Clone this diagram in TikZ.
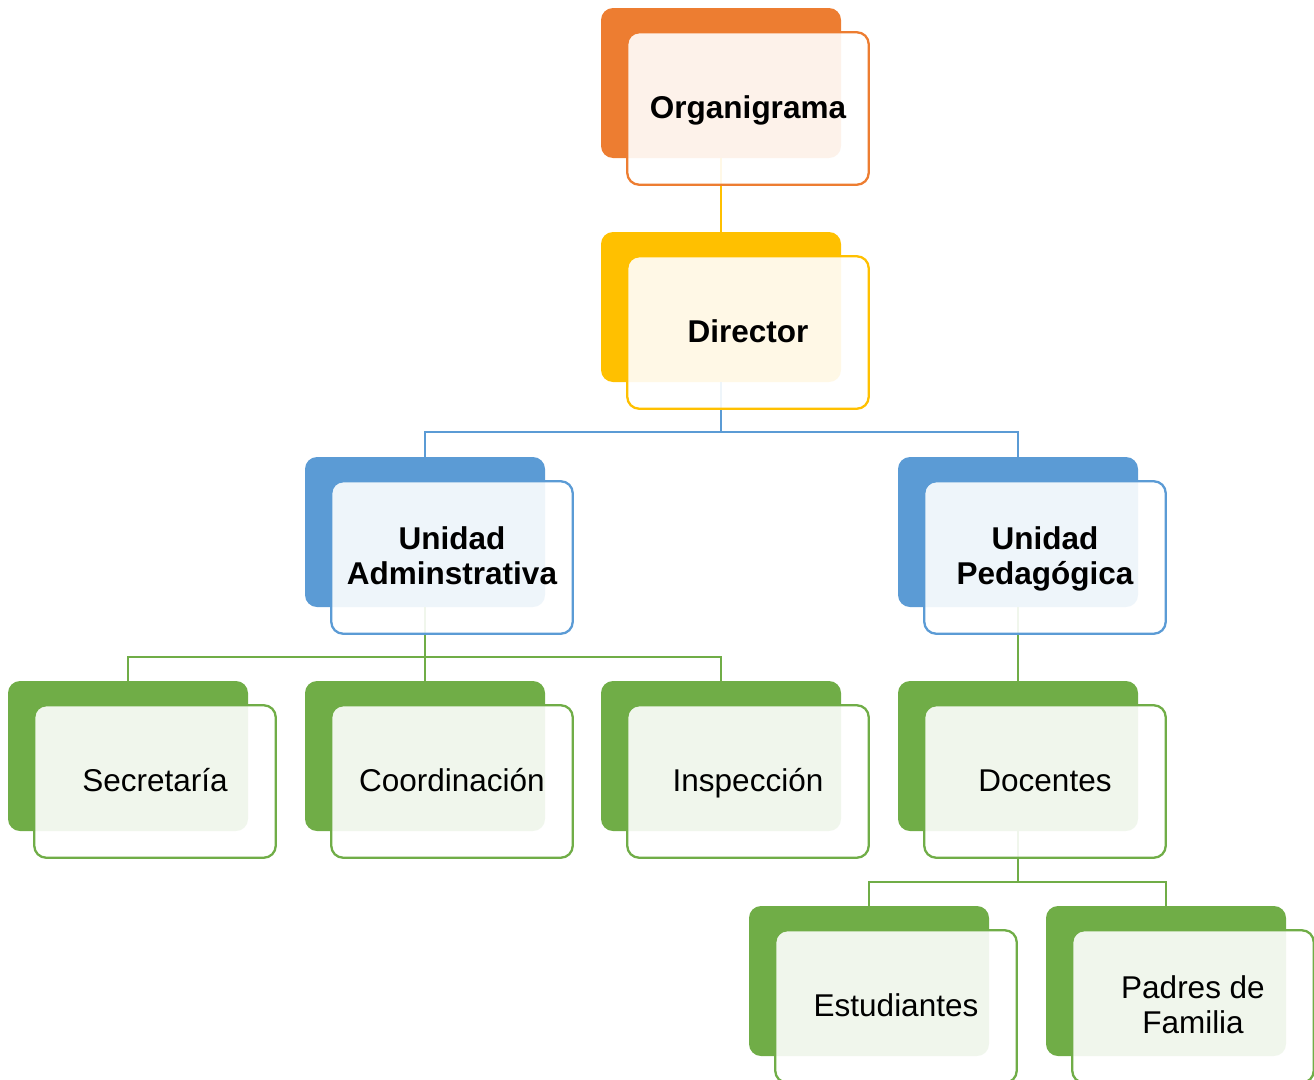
\documentclass[tikz,border=0pt]{standalone}
\usepackage{fontspec}
\setmainfont{Liberation Sans}
\definecolor{corange}{HTML}{ED7D31}
\definecolor{cyellow}{HTML}{FFC000}
\definecolor{cblue}{HTML}{5B9BD5}
\definecolor{cgreen}{HTML}{70AD47}
\newcommand{\mystrut}{\rule[-7pt]{0pt}{33pt}}
\tikzset{
 backbox/.style={fill=#1, draw=none, rounded corners=12pt, minimum width=240pt, minimum height=150pt, inner sep=0pt, outer sep=0pt},
 frontbox/.style={draw=#1, line width=2.3pt, fill=white, fill opacity=0.9, text opacity=1, rounded corners=12pt, minimum width=241.5pt, minimum height=152.5pt, inner sep=0pt, outer sep=0pt, align=center, font=\fontsize{31.5}{35}\selectfont},
 frontbold/.style={frontbox=#1, font=\fontsize{31.5}{35}\selectfont\bfseries},
 conn/.style={draw=#1, line width=2.6pt},
}
\begin{document}
\begin{tikzpicture}[x=1pt,y=-1pt]
\clip (0,0) rectangle (1314,1079);
% back boxes
\node[backbox=corange] (b1) at (721,83) {};
\node[backbox=cyellow] (b2) at (721,307) {};
\node[backbox=cblue] (b3) at (425,532) {};
\node[backbox=cblue] (b4) at (1018,532) {};
\node[backbox=cgreen] (b5) at (128,756) {};
\node[backbox=cgreen] (b6) at (425,756) {};
\node[backbox=cgreen] (b7) at (721,756) {};
\node[backbox=cgreen] (b8) at (1018,756) {};
\node[backbox=cgreen] (b9) at (869,981) {};
\node[backbox=cgreen] (b10) at (1166,981) {};
% connectors
\draw[conn=cyellow] (b1.south) -- (b2.north);
\draw[conn=cblue] (b2.south) -- ++(0,50) -| (b3.north);
\draw[conn=cblue] (b2.south) -- ++(0,50) -| (b4.north);
\draw[conn=cgreen] (b3.south) -- ++(0,50) -| (b5.north);
\draw[conn=cgreen] (b3.south) -- ++(0,50) -| (b6.north);
\draw[conn=cgreen] (b3.south) -- ++(0,50) -| (b7.north);
\draw[conn=cgreen] (b4.south) -- (b8.north);
\draw[conn=cgreen] (b8.south) -- ++(0,51) -| (b9.north);
\draw[conn=cgreen] (b8.south) -- ++(0,51) -| (b10.north);
% front boxes
\node[frontbold=corange] (f1) at ([shift={(27,25.5)}]b1) {Organigrama\mystrut};
\node[frontbold=cyellow] (f2) at ([shift={(27,25.5)}]b2) {Director\mystrut};
\node[frontbold=cblue] (f3) at ([shift={(27,25.5)}]b3) {Unidad\mystrut\\Adminstrativa\mystrut};
\node[frontbold=cblue] (f4) at ([shift={(27,25.5)}]b4) {Unidad\mystrut\\Pedagógica\mystrut};
\node[frontbox=cgreen] (f5) at ([shift={(27,25.5)}]b5) {Secretaría\mystrut};
\node[frontbox=cgreen] (f6) at ([shift={(27,25.5)}]b6) {Coordinación\mystrut};
\node[frontbox=cgreen] (f7) at ([shift={(27,25.5)}]b7) {Inspección\mystrut};
\node[frontbox=cgreen] (f8) at ([shift={(27,25.5)}]b8) {Docentes\mystrut};
\node[frontbox=cgreen] (f9) at ([shift={(27,25.5)}]b9) {Estudiantes\mystrut};
\node[frontbox=cgreen] (f10) at ([shift={(27,25.5)}]b10) {Padres de\mystrut\\Familia\mystrut};
\end{tikzpicture}
\end{document}
